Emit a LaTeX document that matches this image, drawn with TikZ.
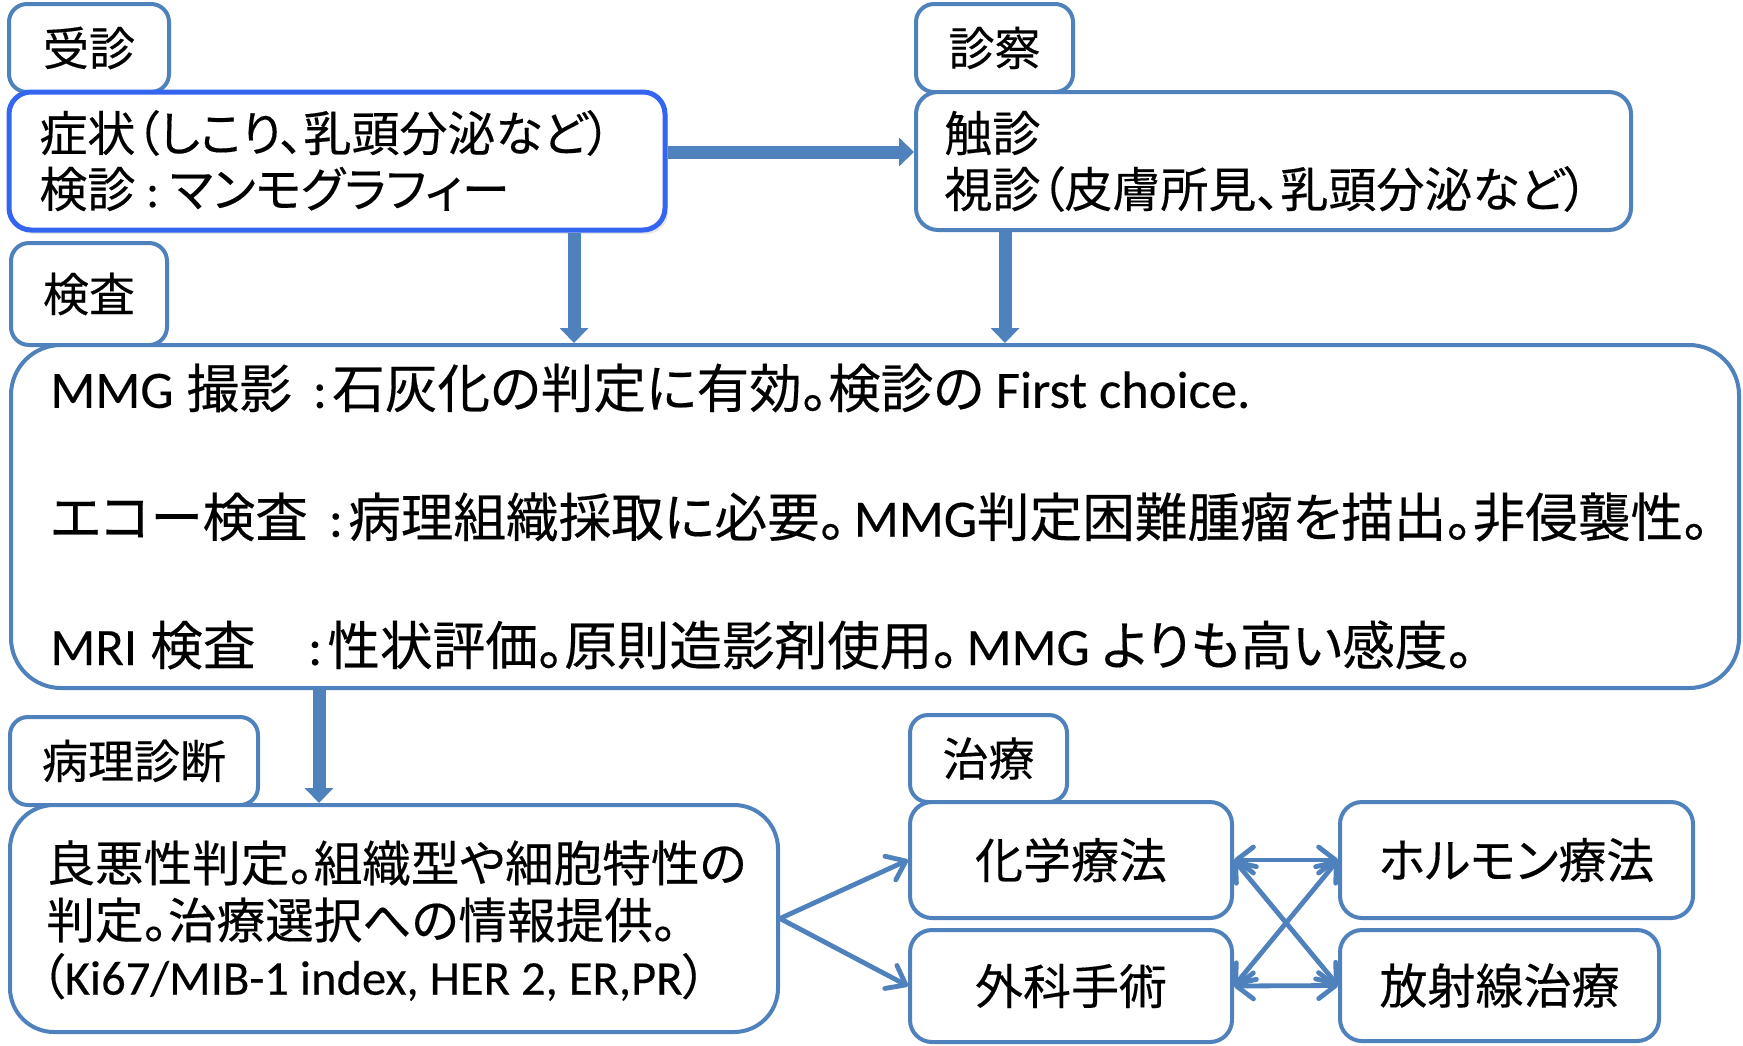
\documentclass[tikz,border=0pt]{standalone}
\usepackage{fontspec}
\setmainfont{Noto Sans CJK JP}[RawFeature=+palt, FakeBold=0.3]
\newfontfamily\lat{Carlito}[FakeBold=0.2]
\usetikzlibrary{arrows.meta,shadows}
\definecolor{bl}{RGB}{79,129,189}
\definecolor{bb}{RGB}{52,101,240}
\begin{document}
\begin{tikzpicture}[x=0.5pt,y=-0.5pt,
  frame/.style={draw=bl, line width=2pt, fill=white, inner sep=0pt},
  tab/.style={frame, rounded corners=9pt, font=\fontsize{23}{27}\selectfont},
  tbox/.style={frame, rounded corners=11pt, font=\fontsize{24}{28}\selectfont},
  txt/.style={anchor=west, inner sep=0pt},
  thickarr/.style={draw=bl, line width=6.5pt, -{Triangle[width=14pt,length=7.5pt]}},
  barb/.tip={Straight Barb[length=8.5pt,width=13pt,round]},
  thinarr/.style={draw=bl, line width=2.4pt, line cap=round, -barb},
  dblarr/.style={draw=bl, line width=2.4pt, line cap=round, barb-barb},
]
\useasboundingbox (0,0) rectangle (1743,1045);

% tabs
\node[tab, minimum width=80pt, minimum height=44pt] (tabA) at (89,48) {受診};
\node[tab, minimum width=78.5pt, minimum height=44pt] (tabB) at (994.5,48) {診察};
\node[tab, minimum width=78pt, minimum height=51pt] (tabC) at (89,294) {検査};
\node[tab, minimum width=124pt, minimum height=44pt] (tabD) at (134,761) {病理診断};
\node[tab, minimum width=78.5pt, minimum height=43.5pt] (tabE) at (988.5,758.5) {治療};

% main boxes
\node[frame, draw=bb, line width=2.5pt, rounded corners=11pt, minimum width=328pt, minimum height=69pt,
      drop shadow={opacity=0.2, shadow xshift=1.5pt, shadow yshift=-2pt}] (box1) at (337,161) {};
\node[frame, rounded corners=11pt, minimum width=357.5pt, minimum height=69pt] (box2) at (1273.5,161) {};
\node[frame, rounded corners=25pt, minimum width=864pt, minimum height=171.5pt] (big) at (875,516.5) {};
\node[frame, rounded corners=22pt, minimum width=384pt, minimum height=113.5pt] (patho) at (394,918.5) {};

% treatment boxes
\node[tbox, minimum width=161pt, minimum height=58pt] (chem) at (1071,860) {化学療法};
\node[tbox, minimum width=161pt, minimum height=56pt] (surg) at (1071,986) {外科手術};
\node[tbox, minimum width=176.5pt, minimum height=58pt] (horm) at (1516.5,860) {ホルモン療法};
\node[tbox, minimum width=159.5pt, minimum height=55.5pt] (rad) at (1499.5,985.5) {放射線治療};

% texts
\begin{scope}[font=\fontsize{24}{28}\selectfont]
\node[txt] (a1) at (39,133) {症状（しこり、乳頭分泌など）};
\node[txt] (a2) at (39,189) {検診{\lat\ :\ }マンモグラフィー};
\node[txt] (b1) at (944,133) {触診};
\node[txt] (b2) at (944,189) {視診（皮膚所見、乳頭分泌など）};
\end{scope}
\begin{scope}[font=\fontsize{26.3}{30}\selectfont]
\node[txt] (c1) at (50,388) {{\lat MMG}\hspace{0.25em}撮影\hspace{0.4em}{\lat :}\hspace{0.1em}石灰化の判定に有効。検診の{\lat\ First choice.}};
\node[txt] (c2) at (50,517) {エコー検査\hspace{0.4em}{\lat :}\hspace{0.1em}病理組織採取に必要。\hspace{0.15em}{\lat MMG}判定困難腫瘤を描出。非侵襲性。};
\node[txt] (c3) at (50,645) {{\lat MRI}\hspace{0.25em}検査　{\lat :}\hspace{0.1em}性状評価。原則造影剤使用。\hspace{0.15em}{\lat MMG\ }よりも高い感度。};
\end{scope}
\begin{scope}[font=\fontsize{24.3}{28}\selectfont]
\node[txt] (d1) at (46,863) {良悪性判定。組織型や細胞特性の};
\node[txt] (d2) at (46,920) {判定。治療選択への情報提供。};
\node[txt] (d3) at (40,977) {（{\lat Ki67/MIB-1 index, HER 2, ER,PR}）};
\end{scope}

% thick arrows
\coordinate (v1) at (574,0);
\coordinate (v2) at (1005,0);
\coordinate (v3) at (319,0);
\draw[thickarr] ([yshift=4.5pt]box1.east) -- ([yshift=4.5pt]box2.west);
\draw[thickarr] (box1.south -| v1) -- (big.north -| v1);
\draw[thickarr] (box2.south -| v2) -- (big.north -| v2);
\draw[thickarr] (big.south -| v3) -- (patho.north -| v3);

% thin arrows
\draw[thinarr] (patho.east) -- (chem.west);
\draw[thinarr] (patho.east) -- (surg.west);
\draw[dblarr] (chem.east) -- (horm.west);
\draw[dblarr] (surg.east) -- (rad.west);
\draw[dblarr] (chem.east) -- (rad.west);
\draw[dblarr] (surg.east) -- (horm.west);
\end{tikzpicture}
\end{document}
